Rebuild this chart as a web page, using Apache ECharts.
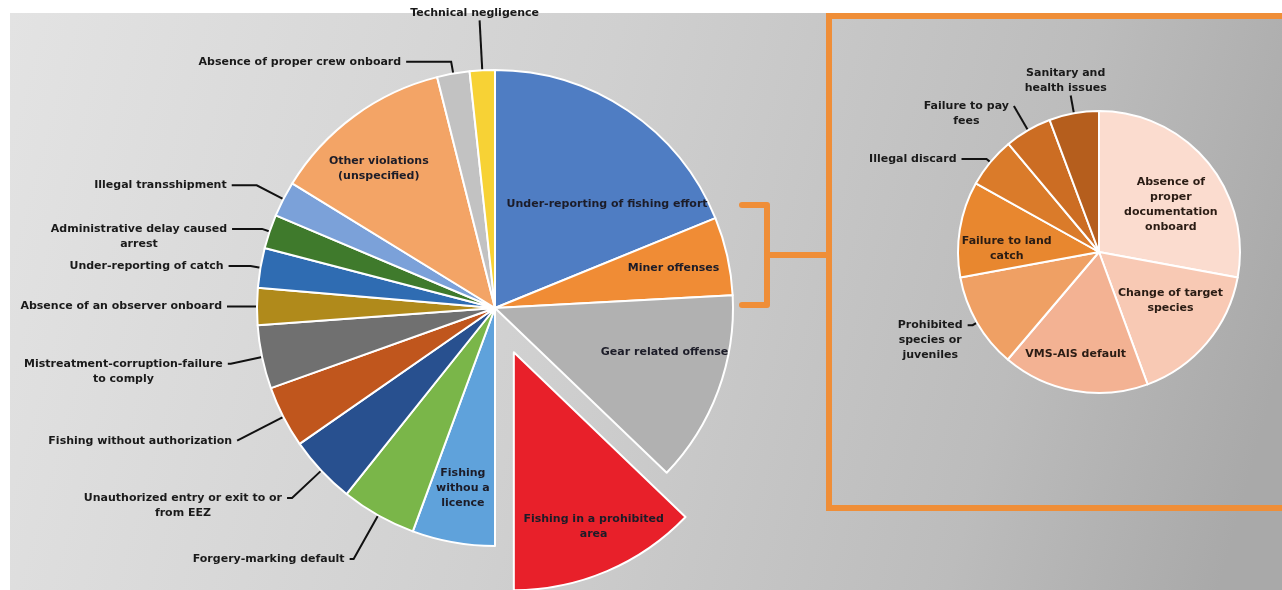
<!DOCTYPE html>
<html>
<head>
<meta charset="utf-8">
<script src="https://cdn.jsdelivr.net/npm/echarts@6/dist/echarts.min.js"></script>
<style>
html,body{margin:0;padding:0;background:#ffffff;}
#c{width:1282px;height:590px;}
</style>
</head>
<body>
<div id="c"></div>
<script>
// ---------- DATA ----------
const mainLabels = [
  'Under-reporting of fishing effort', 'Miner offenses', 'Gear related offense',
  'Fishing in a prohibited area', 'Fishing withou a licence', 'Forgery-marking default',
  'Unauthorized entry or exit to or from EEZ', 'Fishing without authorization',
  'Mistreatment-corruption-failure to comply', 'Absence of an observer onboard',
  'Under-reporting of catch', 'Administrative delay caused arrest', 'Illegal transshipment',
  'Other violations (unspecified)', 'Absence of proper crew onboard', 'Technical negligence'
];
const mainValues = [18.8, 5.3, 13.0, 12.8, 5.6, 5.1, 4.6, 4.2, 4.3, 2.5, 2.7, 2.3, 2.4, 12.3, 2.2, 1.7];

const minorLabels = [
  'Absence of proper documentation onboard', 'Change of target species', 'VMS-AIS default',
  'Prohibited species or juveniles', 'Failure to land catch', 'Illegal discard',
  'Failure to pay fees', 'Sanitary and health issues'
];
const minorValues = [27.9, 16.5, 16.8, 10.9, 11.0, 5.8, 5.4, 5.7];

// ---------- STYLE ----------
const mainColors = ['#4f7dc3', '#f08c35', '#b1b1b1', '#e8202a', '#5fa2db', '#7ab649',
  '#28508f', '#c0561d', '#707070', '#b08a1b', '#2f6cb2', '#3f7a2c', '#7ba1d9',
  '#f3a466', '#c2c2c2', '#f7d235'];
const minorColors = ['#fbdccf', '#f8c9b4', '#f3b293', '#efa064', '#e8872f', '#da7b2a', '#cc6d23', '#b55e1d'];

const explodedName = 'Fishing in a prohibited area';

const wrapText = {
  'Fishing in a prohibited area': 'Fishing in a prohibited\narea',
  'Fishing withou a licence': 'Fishing\nwithou a\nlicence',
  'Unauthorized entry or exit to or from EEZ': 'Unauthorized entry or exit to or\nfrom EEZ',
  'Mistreatment-corruption-failure to comply': 'Mistreatment-corruption-failure\nto comply',
  'Administrative delay caused arrest': 'Administrative delay caused\narrest',
  'Other violations (unspecified)': 'Other violations\n(unspecified)',
  'Absence of proper documentation onboard': 'Absence of\nproper\ndocumentation\nonboard',
  'Change of target species': 'Change of target\nspecies',
  'Prohibited species or juveniles': 'Prohibited\nspecies or\njuveniles',
  'Failure to land catch': 'Failure to land\ncatch',
  'Failure to pay fees': 'Failure to pay\nfees',
  'Sanitary and health issues': 'Sanitary and\nhealth issues'
};
function labelText(name) { return wrapText[name] || name; }

const mainInside = ['Under-reporting of fishing effort', 'Miner offenses', 'Gear related offense',
  'Fishing in a prohibited area', 'Fishing withou a licence', 'Other violations (unspecified)'];
const minorInside = ['Absence of proper documentation onboard', 'Change of target species',
  'VMS-AIS default', 'Failure to land catch'];
const topLabels = ['Technical negligence', 'Sanitary and health issues'];

// leader line [length, length2]
const leader = {
  'Technical negligence': [50, 0],
  'Absence of proper crew onboard': [12, 45],
  'Illegal transshipment': [30, 25],
  'Administrative delay caused arrest': [8, 30],
  'Under-reporting of catch': [10, 22],
  'Absence of an observer onboard': [8, 22],
  'Mistreatment-corruption-failure to comply': [32, 3],
  'Fishing without authorization': [52, 0],
  'Unauthorized entry or exit to or from EEZ': [40, 5],
  'Forgery-marking default': [50, 4],
  'Prohibited species or juveniles': [5, 5],
  'Illegal discard': [5, 25],
  'Failure to pay fees': [28, 0],
  'Sanitary and health issues': [18, 0]
};
// small nudges for inside labels [dx, dy]
const insideNudge = {
  'Under-reporting of fishing effort': [10, 48],
  'Gear related offense': [-2, -20],
  'Fishing in a prohibited area': [8, 6],
  'Other violations (unspecified)': [-8, 8],
  'Absence of proper documentation onboard': [0, 12],
  'Change of target species': [0, -12],
  'VMS-AIS default': [-7, 10],
  'Failure to land catch': [0, 12]
};

const FONT = {fontFamily: 'DejaVu Sans', fontWeight: 'bold', fontSize: 11, lineHeight: 15};

function outsideLayout(labels) {
  return function (p) {
    const name = labels[p.dataIndex];
    if (name == null) return {};
    if (topLabels.indexOf(name) >= 0) return {align: 'center', verticalAlign: 'bottom'};
    const n = labelText(name).split('\n').length;
    if (n > 1 && p.labelRect) {
      const w = p.labelRect.width, h = p.labelRect.height;
      return {align: 'center', dx: p.align === 'left' ? w / 2 : -w / 2, dy: (h - h / n) / 2};
    }
    return {};
  };
}
function insideLayout(labels) {
  return function (p) {
    const d = insideNudge[labels[p.dataIndex]];
    return d ? {dx: d[0], dy: d[1]} : {};
  };
}

function buildOutside(labels, values, colors, insideList) {
  return labels.map((n, i) => {
    const l = leader[n];
    const inside = insideList.indexOf(n) >= 0;
    return {
      name: n, value: values[i], selected: n === explodedName,
      itemStyle: {color: colors[i]},
      label: {show: !inside},
      labelLine: l ? {show: true, length: l[0], length2: l[1]} : {show: false}
    };
  });
}
function buildInside(labels, values, insideList) {
  return labels.map((n, i) => ({
    name: n, value: values[i], selected: n === explodedName,
    label: {show: insideList.indexOf(n) >= 0}
  }));
}

const chart = echarts.init(document.getElementById('c'), null, {renderer: 'canvas'});

const mainCenter = [495, 308], mainR = 238;
const minorCenter = [1099, 252], minorR = 141;
const ORANGE = '#ef8e38';

const option = {
  animation: false,
  backgroundColor: '#ffffff',
  graphic: [
    {type: 'rect', shape: {x: 10, y: 13, width: 1272, height: 577}, silent: true,
      style: {fill: new echarts.graphic.LinearGradient(0, 0, 1, 0.6, [
        {offset: 0, color: '#e3e3e3'}, {offset: 0.45, color: '#d0d0d0'},
        {offset: 0.8, color: '#bcbcbc'}, {offset: 1, color: '#a9a9a9'}])}},
    {type: 'rect', shape: {x: 829, y: 16, width: 470, height: 492}, silent: true,
      style: {fill: 'none', stroke: ORANGE, lineWidth: 6}},
    {type: 'polyline', shape: {points: [[742, 205], [767, 205], [767, 305], [742, 305]]}, silent: true,
      style: {fill: 'none', stroke: ORANGE, lineWidth: 6, lineJoin: 'round', lineCap: 'round'}},
    {type: 'line', shape: {x1: 767, y1: 255, x2: 829, y2: 255}, silent: true,
      style: {stroke: ORANGE, lineWidth: 6}}
  ],
  series: [
    {
      type: 'pie', center: mainCenter, radius: mainR, startAngle: 90, clockwise: true,
      selectedMode: 'single', selectedOffset: 48, avoidLabelOverlap: false,
      emphasis: {disabled: true},
      itemStyle: {borderColor: '#ffffff', borderWidth: 2},
      label: Object.assign({show: true, position: 'outside', color: '#1a1a1a',
        formatter: p => labelText(p.name)}, FONT),
      labelLine: {show: true, lineStyle: {color: '#111111', width: 2}},
      labelLayout: outsideLayout(mainLabels),
      data: buildOutside(mainLabels, mainValues, mainColors, mainInside)
    },
    {
      type: 'pie', center: mainCenter, radius: [122, mainR], startAngle: 90, clockwise: true,
      selectedMode: 'single', selectedOffset: 48, avoidLabelOverlap: false, silent: true,
      emphasis: {disabled: true},
      itemStyle: {color: 'rgba(0,0,0,0)', borderWidth: 0},
      label: Object.assign({show: true, position: 'inside', color: '#1c1c28',
        formatter: p => labelText(p.name)}, FONT),
      labelLine: {show: false},
      labelLayout: insideLayout(mainLabels),
      data: buildInside(mainLabels, mainValues, mainInside)
    },
    {
      type: 'pie', center: minorCenter, radius: minorR, startAngle: 90, clockwise: true,
      avoidLabelOverlap: false, emphasis: {disabled: true},
      itemStyle: {borderColor: '#ffffff', borderWidth: 2},
      label: Object.assign({show: true, position: 'outside', color: '#1a1a1a',
        formatter: p => labelText(p.name)}, FONT),
      labelLine: {show: true, lineStyle: {color: '#111111', width: 2}},
      labelLayout: outsideLayout(minorLabels),
      data: buildOutside(minorLabels, minorValues, minorColors, minorInside)
    },
    {
      type: 'pie', center: minorCenter, radius: [40, minorR], startAngle: 90, clockwise: true,
      avoidLabelOverlap: false, silent: true, emphasis: {disabled: true},
      itemStyle: {color: 'rgba(0,0,0,0)', borderWidth: 0},
      label: Object.assign({show: true, position: 'inside', color: '#2a1c14',
        formatter: p => labelText(p.name)}, FONT),
      labelLine: {show: false},
      labelLayout: insideLayout(minorLabels),
      data: buildInside(minorLabels, minorValues, minorInside)
    }
  ]
};
chart.setOption(option);
const exIdx = mainLabels.indexOf(explodedName);
chart.dispatchAction({type: 'select', seriesIndex: [0, 1], dataIndex: exIdx});
</script>
</body>
</html>
